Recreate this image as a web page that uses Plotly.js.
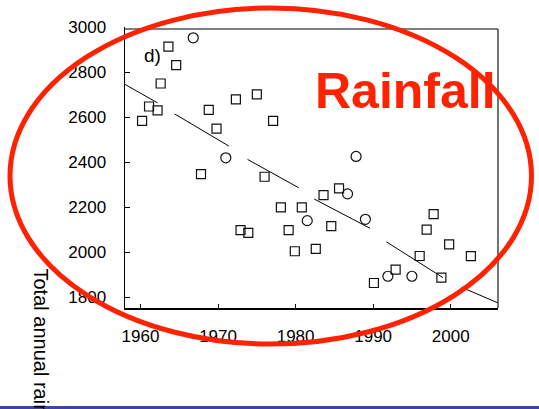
<!DOCTYPE html>
<html>
<head>
<meta charset="utf-8">
<script src="https://cdn.plot.ly/plotly-3.0.1.min.js"></script>
<style>
html,body{margin:0;padding:0;background:#fff;}
#chart{width:539px;height:409px;}
</style>
</head>
<body>
<div id="chart"></div>
<script>
// Open squares
const squareYears = [1963.6, 1964.6, 1962.6, 1961.1, 1962.2, 1960.2, 1968.8, 1972.3, 1975.0, 1977.1,
  1969.8, 1967.8, 1976.0, 1978.1, 1980.8, 1972.9, 1973.9, 1979.1, 1979.9, 1982.6,
  1985.6, 1983.6, 1984.6, 1997.8, 1996.9, 1999.8, 2002.6, 1996.0, 1992.9, 1990.1, 1998.8];
const squareValues = [2913, 2831, 2749, 2647, 2630, 2583, 2632, 2679, 2701, 2583,
  2549, 2347, 2335, 2199, 2199, 2098, 2086, 2098, 2004, 2015,
  2283, 2253, 2116, 2169, 2100, 2035, 1982, 1983, 1922, 1863, 1887];
// Open circles
const circleYears = [1966.8, 1971.0, 1981.5, 1987.8, 1986.7, 1989.0, 1991.9, 1995.0];
const circleValues = [2952, 2419, 2140, 2425, 2259, 2146, 1893, 1893];
// Trend segments
const trendYears = [1958.0, 1962.2, null, 1964.4, 1971.4, null, 1973.8, 1980.4, null,
  1982.4, 1989.6, null, 1991.7, 1999.0, null, 2001.4, 2006.2];
const trendValues = [2745, 2663, null, 2614, 2471, null, 2412, 2286, null,
  2236, 2106, null, 2046, 1887, null, 1844, 1773];
// Axis ticks
const xTicks = [1960, 1970, 1980, 1990, 2000];
const yTicks = [1800, 2000, 2200, 2400, 2600, 2800, 3000];

const FONT = 'Arial, "Liberation Sans", sans-serif';

const traces = [
  {x: trendYears, y: trendValues, mode: 'lines', type: 'scatter',
   line: {color: '#000', width: 1}, connectgaps: false, hoverinfo: 'skip'},
  {x: squareYears, y: squareValues, mode: 'markers', type: 'scatter',
   marker: {symbol: 'square-open', size: 9, color: '#111', line: {width: 1.2, color: '#111'}}},
  {x: circleYears, y: circleValues, mode: 'markers', type: 'scatter',
   marker: {symbol: 'circle-open', size: 10, color: '#111', line: {width: 1.2, color: '#111'}}}
];

const layout = {
  width: 539, height: 409,
  margin: {l: 125, r: 41, t: 27, b: 101, pad: 0},
  paper_bgcolor: '#fff', plot_bgcolor: '#fff',
  showlegend: false,
  font: {family: FONT, size: 17, color: '#000'},
  xaxis: {
    range: [1958, 2006.1], tickvals: xTicks, ticktext: xTicks.map(String),
    ticks: 'inside', ticklen: 4, tickwidth: 1, tickcolor: '#000',
    showline: true, linecolor: '#000', linewidth: 1.5,
    showgrid: false, zeroline: false,
    tickfont: {family: FONT, size: 17, color: '#000'},
    ticklabelstandoff: 12
  },
  yaxis: {
    range: [1752, 3000], tickvals: yTicks, ticktext: yTicks.map(String),
    ticks: 'inside', ticklen: 5, tickwidth: 1, tickcolor: '#000',
    showline: true, linecolor: '#000', linewidth: 1.5,
    showgrid: false, zeroline: false,
    tickfont: {family: FONT, size: 17, color: '#000'},
    ticklabelstandoff: 14
  },
  shapes: [
    // top frame (grey)
    {type: 'line', xref: 'paper', yref: 'paper', x0: 0, x1: 1, y0: 0.9929, y1: 0.9929,
     line: {color: '#7f7f7f', width: 2}},
    // right frame
    {type: 'line', xref: 'paper', yref: 'paper', x0: 1, x1: 1, y0: 0, y1: 0.9929,
     line: {color: '#444', width: 1.5}},
    // red ellipse
    {type: 'circle', xref: 'paper', yref: 'paper', layer: 'above',
     x0: -0.3083, x1: 1.0898, y0: -0.1282, y1: 1.0676,
     line: {color: '#FF2200', width: 5}},
    // bottom blue rule
    {type: 'rect', xref: 'paper', yref: 'paper', layer: 'above',
     x0: -0.36, x1: 1.12, y0: -0.3488, y1: -0.37,
     fillcolor: '#3F44A0', line: {width: 0}}
  ],
  annotations: [
    {text: 'd)', xref: 'paper', yref: 'paper', x: (152 - 125) / 373, y: (308 - 55) / 281,
     xanchor: 'center', yanchor: 'middle', showarrow: false,
     font: {family: FONT, size: 19, color: '#000'}},
    {text: '<b>Rainfall</b>', xref: 'paper', yref: 'paper', x: (313 - 125) / 373, y: (308 - 91) / 281,
     xanchor: 'left', yanchor: 'middle', showarrow: false,
     font: {family: FONT, size: 50, color: '#FF2200'}},
    {text: 'Total annual rainfall (mm)', xref: 'paper', yref: 'paper', textangle: 90,
     x: (41 - 125) / 373, y: (308 - 266) / 281, xanchor: 'center', yanchor: 'top',
     showarrow: false, font: {family: FONT, size: 20, color: '#000'}}
  ]
};

Plotly.newPlot('chart', traces, layout, {displayModeBar: false, staticPlot: true});
</script>
</body>
</html>
